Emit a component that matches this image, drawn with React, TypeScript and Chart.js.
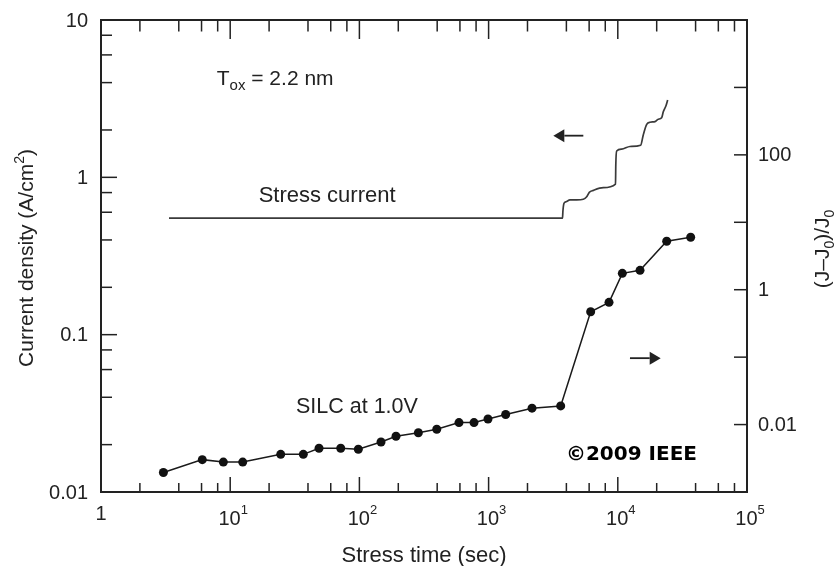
import React, { useEffect, useRef } from 'react';
import { Chart, registerables } from 'chart.js';

Chart.register(...registerables);

// ---- Data ----
// SILC at 1.0V, right axis (J-J0)/J0
const silcTime = [3.04, 6.08, 8.85, 12.5, 24.6, 36.8, 48.7, 71.7, 98.1, 147, 192, 286, 397, 590, 771, 989, 1356, 2168, 3614, 6166, 8551, 10840, 14860, 23900, 36650];
const silcRatio = [0.00195, 0.00302, 0.00278, 0.00278, 0.00362, 0.00362, 0.00445, 0.00445, 0.0043, 0.00551, 0.0067, 0.00755, 0.00851, 0.0107, 0.0107, 0.0121, 0.0141, 0.0175, 0.0189, 0.471, 0.65, 1.75, 1.94, 5.24, 6.01];

// Stress current, left axis (A/cm^2)
const stressTime = [3.36, 3733, 3760, 3834, 3975, 4266, 4808, 5408, 5746, 6017, 6462, 7723, 9600, 9650, 9800, 10710, 12420, 15030, 15740, 16740, 17750, 19410, 20560, 21850, 22490, 23600, 24330];
const stressCurrent = [0.55, 0.55, 0.61, 0.684, 0.7, 0.718, 0.718, 0.725, 0.753, 0.803, 0.826, 0.859, 0.906, 1.2, 1.47, 1.51, 1.57, 1.6, 1.86, 2.17, 2.24, 2.26, 2.34, 2.39, 2.61, 2.85, 3.1];

// Ticks
const xMajorTicks = [1, 10, 100, 1000, 10000, 100000];
const xTickLabels = ['1', '10^1', '10^2', '10^3', '10^4', '10^5'];
const minorMultipliers = [2, 4, 6, 8];
const leftMajorTicks = [0.01, 0.1, 1, 10];
const leftTickLabels = ['0.01', '0.1', '1', '10'];
const rightMajorTicks = [0.001, 0.01, 0.1, 1, 10, 100, 1000, 10000];
const rightLabelValues = [0.01, 1, 100];
const rightTickLabels = ['0.01', '1', '100'];

const INK = '#222';
const FONT = '"Liberation Sans", Arial, Helvetica, sans-serif';

type Seg = { t: string; size: number; dy?: number; bold?: boolean; family?: string };

function drawRich(ctx: CanvasRenderingContext2D, segs: Seg[], x: number, y: number, align: 'left' | 'center' | 'right') {
  const setFont = (s: Seg) => {
    ctx.font = `${s.bold ? 'bold ' : ''}${s.size}px ${s.family || FONT}`;
  };
  let total = 0;
  const widths = segs.map((s) => {
    setFont(s);
    const w = ctx.measureText(s.t).width;
    total += w;
    return w;
  });
  let cx = align === 'left' ? x : align === 'center' ? x - total / 2 : x - total;
  ctx.textAlign = 'left';
  ctx.textBaseline = 'alphabetic';
  segs.forEach((s, i) => {
    setFont(s);
    ctx.fillText(s.t, cx, y + (s.dy || 0));
    cx += widths[i];
  });
}

function drawArrow(ctx: CanvasRenderingContext2D, tailX: number, tipX: number, y: number) {
  const dir = tipX > tailX ? 1 : -1;
  const headLen = 11;
  const headHalf = 6.5;
  ctx.beginPath();
  ctx.moveTo(tailX, y);
  ctx.lineTo(tipX - dir * headLen, y);
  ctx.lineWidth = 1.8;
  ctx.stroke();
  ctx.beginPath();
  ctx.moveTo(tipX, y);
  ctx.lineTo(tipX - dir * headLen, y - headHalf);
  ctx.lineTo(tipX - dir * headLen, y + headHalf);
  ctx.closePath();
  ctx.fill();
}

const overlayPlugin = {
  id: 'overlay',
  afterDraw(chart: any) {
    const ctx: CanvasRenderingContext2D = chart.ctx;
    const { left, right, top, bottom } = chart.chartArea;
    const xs = chart.scales.x;
    const yl = chart.scales.y;
    const yr = chart.scales.y2;
    ctx.save();
    ctx.strokeStyle = INK;
    ctx.fillStyle = INK;

    // Ticks
    ctx.lineWidth = 1.5;
    const line = (x1: number, y1: number, x2: number, y2: number) => {
      ctx.beginPath();
      ctx.moveTo(x1, y1);
      ctx.lineTo(x2, y2);
      ctx.stroke();
    };
    // x ticks (bottom and top, inward)
    xMajorTicks.forEach((v, i) => {
      const px = xs.getPixelForValue(v);
      line(px, bottom, px, bottom - 15);
      line(px, top, px, top + 19);
      if (i < xMajorTicks.length - 1) {
        minorMultipliers.forEach((m) => {
          const mx = xs.getPixelForValue(v * m);
          line(mx, bottom, mx, bottom - 9);
          line(mx, top, mx, top + 11.5);
        });
      }
    });
    // left y ticks
    leftMajorTicks.forEach((v, i) => {
      const py = yl.getPixelForValue(v);
      line(left, py, left + 16, py);
      if (i < leftMajorTicks.length - 1) {
        minorMultipliers.forEach((m) => {
          const my = yl.getPixelForValue(v * m);
          line(left, my, left + 11, my);
        });
      }
    });
    // right y ticks
    rightMajorTicks.forEach((v) => {
      const py = yr.getPixelForValue(v);
      line(right, py, right - 13, py);
    });

    // Frame
    ctx.lineWidth = 2;
    ctx.strokeRect(left, top, right - left, bottom - top);

    // Tick labels
    ctx.fillStyle = INK;
    ctx.font = `20px ${FONT}`;
    ctx.textAlign = 'right';
    ctx.textBaseline = 'middle';
    leftMajorTicks.forEach((v, i) => {
      ctx.fillText(leftTickLabels[i], left - 13, yl.getPixelForValue(v) + 1);
    });
    ctx.textAlign = 'left';
    rightLabelValues.forEach((v, i) => {
      ctx.fillText(rightTickLabels[i], right + 11, yr.getPixelForValue(v) + 1);
    });
    xMajorTicks.forEach((v, i) => {
      const px = xs.getPixelForValue(v);
      const [base, exp] = xTickLabels[i].split('^');
      if (exp) {
        drawRich(ctx, [
          { t: base, size: 20 },
          { t: exp, size: 13, dy: -11 },
        ], px + 3, bottom + 33, 'center');
      } else {
        drawRich(ctx, [{ t: base, size: 20 }], px, bottom + 28, 'center');
      }
    });

    // Axis titles
    drawRich(ctx, [{ t: 'Stress time (sec)', size: 22 }], (left + right) / 2, bottom + 70, 'center');

    ctx.save();
    ctx.translate(33, (top + bottom) / 2 + 2);
    ctx.rotate(-Math.PI / 2);
    drawRich(ctx, [
      { t: 'Current density (A/cm', size: 21 },
      { t: '2', size: 14, dy: -9 },
      { t: ')', size: 21 },
    ], 0, 0, 'center');
    ctx.restore();

    ctx.save();
    ctx.translate(829, (top + bottom) / 2 - 7);
    ctx.rotate(-Math.PI / 2);
    drawRich(ctx, [
      { t: '(J\u2013J', size: 21 },
      { t: '0', size: 14, dy: 5 },
      { t: ')/J', size: 21 },
      { t: '0', size: 14, dy: 5 },
    ], 0, 0, 'center');
    ctx.restore();

    // Annotations (anchored in data coordinates)
    drawRich(ctx, [
      { t: 'T', size: 21 },
      { t: 'ox', size: 15, dy: 5 },
      { t: ' = 2.2 nm', size: 21 },
    ], xs.getPixelForValue(7.87), yl.getPixelForValue(3.86), 'left');
    drawRich(ctx, [{ t: 'Stress current', size: 22 }], xs.getPixelForValue(16.6), yl.getPixelForValue(0.697), 'left');
    drawRich(ctx, [{ t: 'SILC at 1.0V', size: 21.5 }], xs.getPixelForValue(32.3), yr.getPixelForValue(0.0147), 'left');

    ctx.strokeStyle = INK;
    ctx.fillStyle = INK;
    drawArrow(ctx, xs.getPixelForValue(5410), xs.getPixelForValue(3170), yl.getPixelForValue(1.84));
    drawArrow(ctx, xs.getPixelForValue(12420), xs.getPixelForValue(21480), yr.getPixelForValue(0.0966));

    ctx.fillStyle = '#000';
    drawRich(ctx, [{ t: '\u00A92009 IEEE', size: 20, bold: true, family: '"DejaVu Sans", Verdana, sans-serif' }], right - 50, bottom - 32, 'right');

    ctx.restore();
  },
};

export default function App() {
  const canvasRef = useRef<HTMLCanvasElement | null>(null);

  useEffect(() => {
    if (!canvasRef.current) return;
    const chart = new Chart(canvasRef.current, {
      type: 'line',
      data: {
        datasets: [
          {
            label: 'Stress current',
            data: stressTime.map((t, i) => ({ x: t, y: stressCurrent[i] })),
            yAxisID: 'y',
            borderColor: '#3a3a3a',
            borderWidth: 1.7,
            pointRadius: 0,
            cubicInterpolationMode: 'monotone',
            fill: false,
          },
          {
            label: 'SILC at 1.0V',
            data: silcTime.map((t, i) => ({ x: t, y: silcRatio[i] })),
            yAxisID: 'y2',
            borderColor: '#1a1a1a',
            borderWidth: 1.5,
            pointRadius: 4.5,
            pointBackgroundColor: '#111',
            pointBorderColor: '#111',
            pointBorderWidth: 0,
            tension: 0,
            fill: false,
          },
        ],
      },
      options: {
        responsive: false,
        animation: false,
        devicePixelRatio: 1,
        layout: { padding: { left: 101, right: 89, top: 20, bottom: 74 } },
        plugins: {
          legend: { display: false },
          tooltip: { enabled: false },
        },
        scales: {
          x: { type: 'logarithmic', min: 1, max: 100000, display: false },
          y: { type: 'logarithmic', min: 0.01, max: 10, display: false, position: 'left' },
          y2: { type: 'logarithmic', min: 0.001, max: 10000, display: false, position: 'right' },
        },
      },
      plugins: [overlayPlugin],
    });
    return () => chart.destroy();
  }, []);

  return (
    <div style={{ position: 'absolute', left: 0, top: 0, width: 836, height: 566, background: '#fff' }}>
      <canvas ref={canvasRef} width={836} height={566} style={{ display: 'block' }} />
    </div>
  );
}
